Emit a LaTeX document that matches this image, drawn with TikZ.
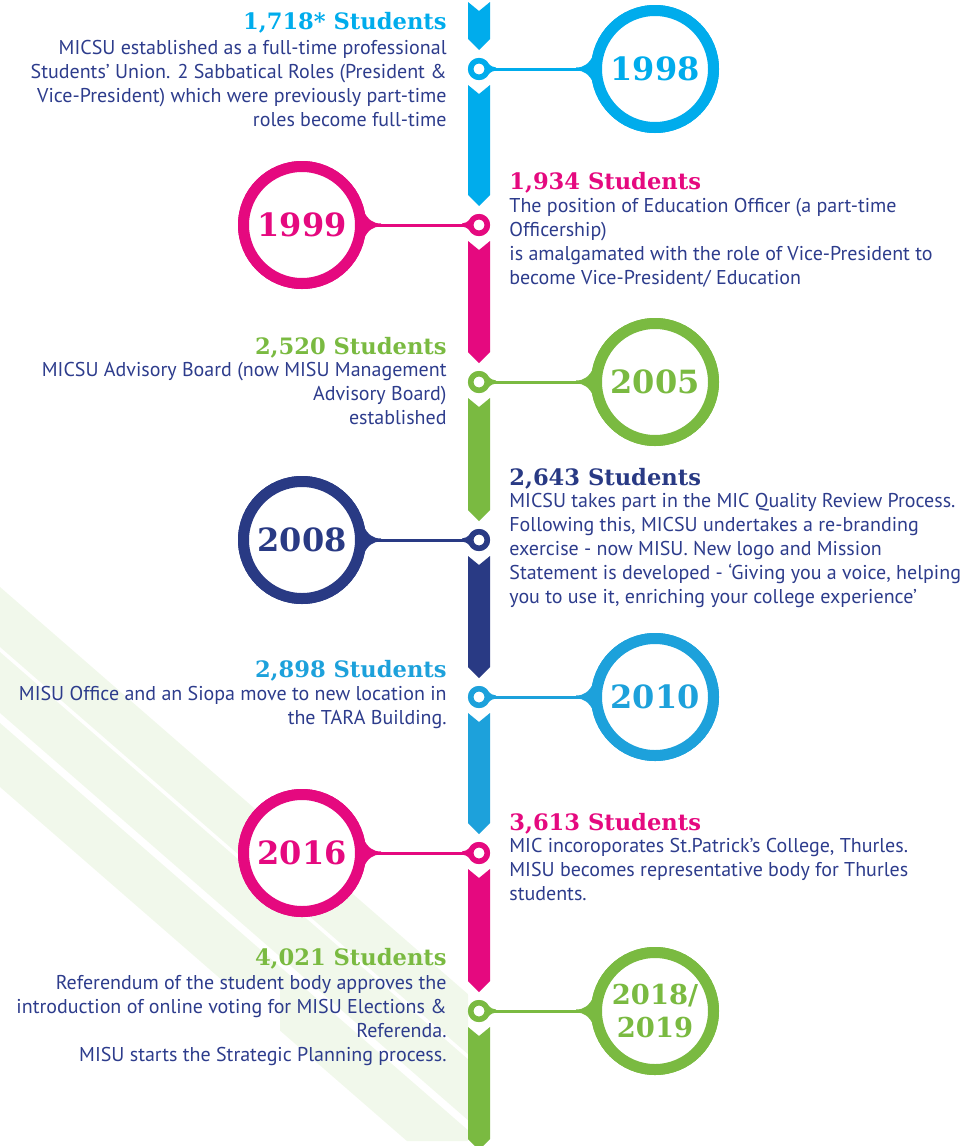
\documentclass[tikz,border=0pt]{standalone}
\usepackage{fontspec}
\setmainfont{PT Sans}
\newfontfamily\slabfont{DejaVu Serif}

\definecolor{mcyan}{RGB}{0,172,236}
\definecolor{mpink}{RGB}{229,9,127}
\definecolor{mgreen}{RGB}{122,186,65}
\definecolor{mnavy}{RGB}{41,58,132}
\definecolor{mblue}{RGB}{29,161,219}
\definecolor{bodyblue}{RGB}{45,60,140}
\definecolor{paleleaf}{RGB}{241,248,235}

% one piece of the timeline spine: notch on top, point at the bottom
\newcommand\spineseg[3]{%
  \fill[#1] (468,#2) -- (479,#2+9) -- (490,#2) -- (490,#3-11) -- (479,#3) -- (468,#3-11) -- cycle;}

\tikzset{
  yearring/.style={circle, draw=#1, fill=white, line width=5.5pt, minimum size=58.5pt,
    inner sep=0pt, text=#1, align=center, font=\slabfont\bfseries\fontsize{16}{17}\selectfont},
  stop/.style={circle, draw=#1, fill=white, line width=2.75pt, minimum size=8.25pt, inner sep=0pt},
  link/.style={#1, line width=1.5pt},
  lefthead/.style={anchor=base east, inner sep=0pt, text=#1, font=\slabfont\bfseries\fontsize{11.3}{13}\selectfont},
  righthead/.style={anchor=base west, inner sep=0pt, text=#1, font=\slabfont\bfseries\fontsize{11.3}{13}\selectfont},
  lefttext/.style={anchor=north east, align=right, inner sep=0pt, text=bodyblue, font=\fontsize{10}{12}\selectfont},
  righttext/.style={anchor=north west, align=left, inner sep=0pt, text=bodyblue, font=\fontsize{10}{12}\selectfont},
  % flared joint of a link where it meets a ring (ring on the +x side)
  flare/.pic={\fill (-15,1.5) .. controls (-7,1.5) and (-2,5) .. (3,15) -- (3,-15) .. controls (-2,-5) and (-7,-1.5) .. (-15,-1.5) -- cycle;},
  nub/.pic={\fill (-6,1.5) .. controls (-3,1.5) and (-1,3) .. (2.5,6) -- (2.5,-6) .. controls (-1,-3) and (-3,-1.5) .. (-6,-1.5) -- cycle;}
}

\begin{document}
\begin{tikzpicture}[x=0.5pt, y=-0.5pt]

  \useasboundingbox (0,0) rectangle (975,1146);

  % pale diagonal bands behind the lower half
  \begin{scope}
    \clip (0,0) -- (468,0) -- (468,1141) -- (280,1141) -- (280,982) -- (0,982) -- cycle;
    \fill[paleleaf] (0,587) -- (500,1022) -- (500,1082) -- (0,647) -- cycle;
    \fill[paleleaf] (0,652) -- (500,1087) -- (500,1148) -- (0,713) -- cycle;
    \fill[paleleaf] (0,723) -- (500,1158) -- (500,1222) -- (0,787) -- cycle;
  \end{scope}

  % spine
  \spineseg{mcyan}{2}{50}
  \spineseg{mcyan}{85}{206}
  \spineseg{mpink}{241}{363}
  \spineseg{mgreen}{398}{521}
  \spineseg{mnavy}{556}{678}
  \spineseg{mblue}{713}{834}
  \spineseg{mpink}{869}{992}
  \spineseg{mgreen}{1027}{1150}

  % stops on the spine
  \node[stop=mcyan]  (d1998) at (479,69)   {};
  \node[stop=mpink]  (d1999) at (479,225)  {};
  \node[stop=mgreen] (d2005) at (479,382)  {};
  \node[stop=mnavy]  (d2008) at (479,540)  {};
  \node[stop=mblue]  (d2010) at (479,697)  {};
  \node[stop=mpink]  (d2016) at (479,853)  {};
  \node[stop=mgreen] (d2018) at (479,1011) {};

  % year rings
  \node[yearring=mcyan]  (y1998) at (655,69)   {1998};
  \node[yearring=mpink]  (y1999) at (302,225)  {1999};
  \node[yearring=mgreen] (y2005) at (655,382)  {2005};
  \node[yearring=mnavy]  (y2008) at (302,540)  {2008};
  \node[yearring=mblue]  (y2010) at (655,697)  {2010};
  \node[yearring=mpink]  (y2016) at (302,853)  {2016};
  \node[yearring=mgreen, font=\slabfont\bfseries\fontsize{13.7}{16.5}\selectfont] (y2018) at (655,1011) {2018/\\2019};

  % links from stops to rings
  \draw[link=mcyan]  (d1998) -- (y1998);
  \draw[link=mpink]  (d1999) -- (y1999);
  \draw[link=mgreen] (d2005) -- (y2005);
  \draw[link=mnavy]  (d2008) -- (y2008);
  \draw[link=mblue]  (d2010) -- (y2010);
  \draw[link=mpink]  (d2016) -- (y2016);
  \draw[link=mgreen] (d2018) -- (y2018);
  \pic[mcyan] at (y1998.west) {flare};
  \pic[mpink, xscale=-1] at (y1999.east) {flare};
  \pic[mgreen] at (y2005.west) {flare};
  \pic[mnavy, xscale=-1] at (y2008.east) {flare};
  \pic[mblue] at (y2010.west) {flare};
  \pic[mpink, xscale=-1] at (y2016.east) {flare};
  \pic[mgreen] at (y2018.west) {flare};
  \pic[mcyan, xscale=-1] at (d1998.east) {nub};
  \pic[mpink] at (d1999.west) {nub};
  \pic[mgreen, xscale=-1] at (d2005.east) {nub};
  \pic[mnavy] at (d2008.west) {nub};
  \pic[mblue, xscale=-1] at (d2010.east) {nub};
  \pic[mpink] at (d2016.west) {nub};
  \pic[mgreen, xscale=-1] at (d2018.east) {nub};

  % redraw rings and stops over the joints
  \node[yearring=mcyan]  at (y1998) {1998};
  \node[yearring=mpink]  at (y1999) {1999};
  \node[yearring=mgreen] at (y2005) {2005};
  \node[yearring=mnavy]  at (y2008) {2008};
  \node[yearring=mblue]  at (y2010) {2010};
  \node[yearring=mpink]  at (y2016) {2016};
  \node[yearring=mgreen, font=\slabfont\bfseries\fontsize{13.7}{16.5}\selectfont] at (y2018) {2018/\\2019};
  \foreach \d/\c in {1998/mcyan,1999/mpink,2005/mgreen,2008/mnavy,2010/mblue,2016/mpink,2018/mgreen}
    \node[stop=\c] at (d\d) {};

  % student numbers and notes
  \node[lefthead=mcyan] (h1998) at (447,29) {1,718* Students};
  \node[lefttext] (n1998) at (447,37.2) {\strut MICSU established as a full-time professional\\
    Students' Union. 2 Sabbatical Roles (President \&\\
    Vice-President) which were previously part-time\\
    roles become full-time};

  \node[righthead=mpink] (h1999) at (509,189) {1,934 Students};
  \node[righttext] (n1999) at (509,195.2) {\strut The position of Education Officer (a part-time\\
    Officership)\\
    is amalgamated with the role of Vice-President to\\
    become Vice-President/ Education};

  \node[lefthead=mgreen] (h2005) at (447,354) {2,520 Students};
  \node[lefttext] (n2005) at (447,359.2) {\strut MICSU Advisory Board (now MISU Management\\
    Advisory Board)\\
    established};

  \node[righthead=mnavy] (h2008) at (509,485) {2,643 Students};
  \node[righttext] (n2008) at (509,490.2) {\strut MICSU takes part in the MIC Quality Review Process.\\
    Following this, MICSU undertakes a re-branding\\
    exercise - now MISU. New logo and Mission\\
    Statement is developed - `Giving you a voice, helping\\
    you to use it, enriching your college experience'};

  \node[lefthead=mblue] (h2010) at (447,677) {2,898 Students};
  \node[lefttext] (n2010) at (447,683.2) {\strut MISU Office and an Siopa move to new location in\\
    the TARA Building.};

  \node[righthead=mpink] (h2016) at (509,830) {3,613 Students};
  \node[righttext] (n2016) at (509,835.2) {\strut MIC incoroporates St.Patrick's College, Thurles.\\
    MISU becomes representative body for Thurles\\
    students.};

  \node[lefthead=mgreen] (h2018) at (447,965) {4,021 Students};
  \node[lefttext] (n2018) at (447,972.2) {\strut Referendum of the student body approves the\\
    introduction of online voting for MISU Elections \&\\
    Referenda.\\
    MISU starts the Strategic Planning process.};

\end{tikzpicture}
\end{document}
